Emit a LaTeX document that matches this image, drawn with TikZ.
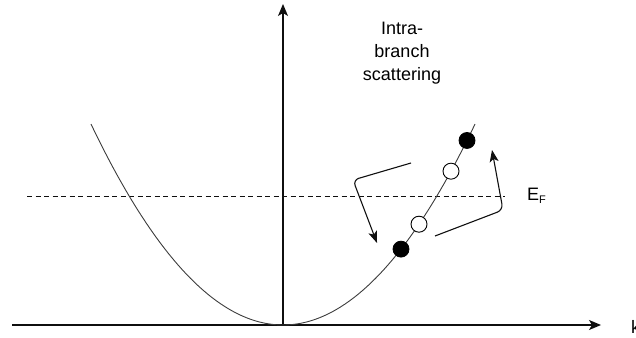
\documentclass[tikz,border=0pt]{standalone}
\usepackage{fontspec}
\setmainfont{Liberation Sans}
\usetikzlibrary{arrows.meta, positioning}
\definecolor{mydark}{RGB}{15, 15, 15}
\definecolor{mycurve}{RGB}{60, 60, 60}
\def\band(#1){325-54.5*((#1-283)/100)^2}

\begin{document}
\begin{tikzpicture}[x=1pt, y=-1pt,
    axis/.style={mydark, line width=1.2pt, -{Stealth[length=12pt, width=10pt, inset=3pt]}},
    hop/.style={mydark, line width=1.1pt, rounded corners=6pt, -{Stealth[length=12pt, width=9pt, inset=3pt]}},
    filled/.style={circle, draw=black, fill=black, line width=0.8pt, inner sep=0pt, minimum size=16pt},
    hollow/.style={circle, draw=black, fill=white, line width=0.9pt, inner sep=0pt, minimum size=16pt},
    lbl/.style={font=\fontsize{18}{23}\selectfont, align=center, inner sep=0pt}]
    % Fixed frame, same size as the original sketch
    \useasboundingbox (0, 0) rectangle (636, 337);

    % ----------------------------------------------------
    % Axes
    % ----------------------------------------------------
    \coordinate (origin) at (283, 325);
    \coordinate (xstart) at (12, 325);
    \coordinate (xend) at (601, 325);
    \coordinate (yend) at (283, 4);
    \draw[axis] (xstart) -- (xend);
    \draw[axis] (origin) -- (yend);
    \node[lbl, anchor=west] (k) at (631, 327) {k};

    % ----------------------------------------------------
    % Fermi level and band
    % ----------------------------------------------------
    \coordinate (fleft) at (27, 196);
    \coordinate (fright) at (505, 196);
    \draw[mydark, line width=0.9pt, dash pattern=on 5pt off 3.5pt] (fleft) -- (fright);
    \node[lbl, anchor=west] (ef) at (527, 196) {E\textsubscript{\fontsize{11}{11}\selectfont F}};

    \draw[mycurve, line width=0.9pt] plot[domain=91:475, samples=90] (\x, {\band(\x)});

    % Electrons (filled) and holes (open) on the right branch
    \node[filled] (e1) at (401, {\band(401)}) {};
    \node[hollow] (h1) at (419, {\band(419)}) {};
    \node[hollow] (h2) at (451, {\band(451)}) {};
    \node[filled] (e2) at (467, {\band(467)}) {};

    % ----------------------------------------------------
    % Scattering arrows
    % ----------------------------------------------------
    \coordinate (a1) at (411, 163);
    \coordinate (a2) at (353, 180);
    \coordinate (a3) at (377, 243);
    \draw[hop] (a1) -- (a2) -- (a3);

    \coordinate (b1) at (435, 236);
    \coordinate (b2) at (503, 210);
    \coordinate (b3) at (492, 150);
    \draw[hop] (b1) -- (b2) -- (b3);

    \node[lbl] (title) at (402, 53) {Intra-\\branch\\scattering};

\end{tikzpicture}
\end{document}
